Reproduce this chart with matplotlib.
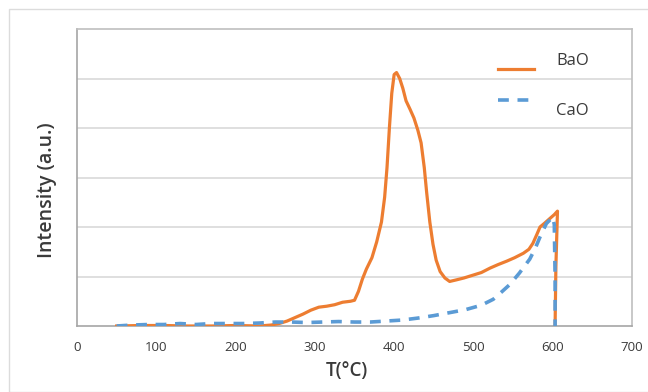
import matplotlib
matplotlib.use("Agg")
import matplotlib.pyplot as plt
from matplotlib.patches import Rectangle
from matplotlib.lines import Line2D

# ---- data ----
bao_t = [50, 80, 110, 140, 170, 200, 230, 245, 255, 265, 275, 285, 295, 305, 315,
         325, 335, 345, 350, 355, 360, 365, 372, 378, 384, 388, 391, 394, 397, 400,
         403, 407, 411, 415, 420, 425, 430, 434, 438, 441, 445, 449, 453, 458, 464,
         470, 478, 488, 500, 510, 521, 531, 542, 552, 563, 570, 575, 580, 584, 590,
         597, 602, 606, 604, 603]
bao_y = [0.0, 0.01, 0.01, 0.0, 0.0, 0.01, 0.0, 0.02, 0.05, 0.1, 0.17, 0.24, 0.32, 0.38, 0.4,
         0.43, 0.48, 0.5, 0.52, 0.7, 0.95, 1.15, 1.38, 1.7, 2.1, 2.6, 3.2, 4.0, 4.7, 5.08,
         5.12, 5.0, 4.8, 4.55, 4.38, 4.2, 3.95, 3.7, 3.2, 2.7, 2.1, 1.65, 1.33, 1.1, 0.97,
         0.9, 0.93, 0.97, 1.03, 1.08, 1.17, 1.24, 1.31, 1.38, 1.47, 1.55, 1.67, 1.85, 2.0, 2.08,
         2.18, 2.25, 2.32, 1.2, 0.0]

cao_t = [50, 70, 90, 110, 130, 150, 170, 190, 210, 230, 250, 270, 290, 310, 330, 350,
         370, 390, 410, 430, 450, 470, 490, 510, 525, 535, 546, 558, 571, 578, 584, 592,
         600, 602, 603, 603]
cao_y = [0.0, 0.02, 0.03, 0.03, 0.05, 0.03, 0.05, 0.05, 0.05, 0.06, 0.08, 0.08, 0.07, 0.08,
         0.09, 0.08, 0.08, 0.1, 0.12, 0.16, 0.21, 0.27, 0.33, 0.42, 0.54, 0.68, 0.84, 1.07,
         1.35, 1.57, 1.8, 2.07, 2.2, 2.05, 1.0, 0.0]

x_ticks = [0, 100, 200, 300, 400, 500, 600, 700]
series_labels = ["BaO", "CaO"]

ORANGE = "#ED7D31"
BLUE = "#5B9BD5"
TXT = "#3a3a3a"

plt.rcParams['font.family'] = ['Open Sans', 'DejaVu Sans']

fig = plt.figure(figsize=(6.48, 3.92), dpi=100)
fig.patch.set_facecolor("white")

# outer light border
fig.patches.append(Rectangle((9 / 648, 0), 1.0, 1 - 9 / 392, transform=fig.transFigure,
                             fill=False, edgecolor="#dcdcdc", linewidth=1.0))

ax = fig.add_axes([77 / 648, 1 - 326 / 392, (632 - 77) / 648, (326 - 29) / 392])
ax.set_xlim(0, 700)
ax.set_ylim(0, 6)
ax.set_xticks(x_ticks)
ax.set_xticklabels([str(v) for v in x_ticks])
ax.set_yticks([1, 2, 3, 4, 5])
ax.set_yticklabels([])
ax.tick_params(axis='both', length=0, labelsize=9.5, colors=TXT, pad=11)
ax.grid(axis='y', color="#d9d9d9", linewidth=1.2)
ax.set_axisbelow(True)
for s in ax.spines.values():
    s.set_color("#bfbfbf")
    s.set_linewidth(1.2)
ax.spines['left'].set_color("#a6a6a6")
ax.spines['bottom'].set_color("#a6a6a6")

ax.plot(bao_t, bao_y, color=ORANGE, linewidth=2.3, solid_joinstyle='round', zorder=3)
ax.plot(cao_t, cao_y, color=BLUE, linewidth=2.6, dashes=[3.0, 2.4], zorder=4)

ax.set_xlabel("T(°C)", fontsize=13.5, fontweight='semibold', color=TXT, va='center')
ax.xaxis.set_label_coords(0.487, -0.1515)
ax.set_ylabel("Intensity (a.u.)", fontsize=14, fontweight='semibold', color=TXT, va='center')
ax.yaxis.set_label_coords(-0.054, 0.456)

# legend (manual, Excel-like)
def fx(px):
    return px / 648
def fy(py):
    return 1 - py / 392

fig.lines.append(Line2D([fx(498), fx(534)], [fy(69), fy(69)], transform=fig.transFigure,
                        color=ORANGE, linewidth=2.3))
fig.lines.append(Line2D([fx(498), fx(534)], [fy(100), fy(100)], transform=fig.transFigure,
                        color=BLUE, linewidth=2.6, dashes=[3.0, 2.4]))
fig.text(fx(556), fy(61), series_labels[0], fontsize=12, color=TXT, va='center', ha='left')
fig.text(fx(556), fy(111), series_labels[1], fontsize=12, color=TXT, va='center', ha='left')

fig.savefig("out.png", dpi=100)
